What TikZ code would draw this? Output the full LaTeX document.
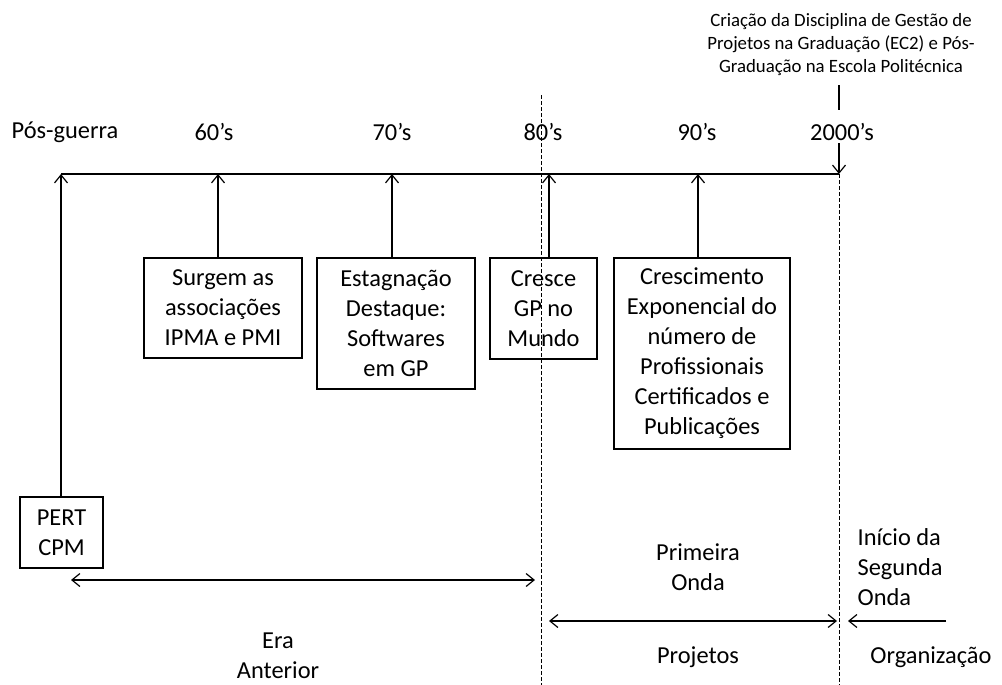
\documentclass[tikz,border=0pt]{standalone}
\usepackage{fontspec}
\setmainfont{Carlito}
\usetikzlibrary{arrows.meta}

\begin{document}
\begin{tikzpicture}[
  x=0.5pt, y=-0.5pt, line width=0.6pt,
  >={Straight Barb[length=4pt,width=6.5pt]},
  every node/.style={font=\fontsize{12.2}{15}\selectfont, inner sep=0pt},
  box/.style={draw, align=center},
  small/.style={font=\fontsize{9.4}{11.5}\selectfont, align=center},
  divider/.style={line width=0.5pt, dash pattern=on 2pt off 1pt},
  ]
  \useasboundingbox (0,0) rectangle (1002,685);

  % decades
  \node (lpos)  at (65,132)  {Pós-guerra};
  \node (l60)   at (214,132) {60’s};
  \node (l70)   at (392,132) {70’s};
  \node (l80)   at (543,132) {80’s};
  \node (l90)   at (697,132) {90’s};
  \node (l2000) at (842,132) {2000’s};
  \node[small] (note) at (841,45)
    {Criação da Disciplina de Gestão de\\Projetos na Graduação (EC2) e Pós-\\Graduação na Escola Politécnica};

  % timeline
  \coordinate (tpos)  at (61,174);
  \coordinate (t60)   at (218,174);
  \coordinate (t70)   at (392,174);
  \coordinate (t80)   at (549,174);
  \coordinate (t90)   at (698,174);
  \coordinate (t2000) at (839,174);
  \draw (tpos) -- (t2000);

  % events
  \node[box, minimum width=41.5pt, minimum height=35.5pt] (pert) at (61.5,532.5) {PERT\\CPM};
  \node[box, minimum width=79pt, minimum height=50pt] (surgem) at (223,308)
    {Surgem as\\associações\\IPMA e PMI};
  \node[box, minimum width=79pt, minimum height=65.5pt] (estag) at (396,323.5)
    {Estagnação\\Destaque:\\Softwares\\em GP};
  \node[box, minimum width=53.5pt, minimum height=50.5pt] (cresce) at (543.5,308.5)
    {Cresce\\GP no\\Mundo};
  \node[box, minimum width=88pt, minimum height=95.5pt] (expo) at (702,353.5)
    {Crescimento\\Exponencial do\\número de\\Profissionais\\Certificados e\\Publicações};

  \draw[->] (pert.north -| tpos) -- (tpos);
  \draw[->] (surgem.north -| t60) -- (t60);
  \draw[->] (estag.north -| t70) -- (t70);
  \draw[->] (cresce.north -| t80) -- (t80);
  \draw[->] (expo.north -| t90) -- (t90);
  \draw (t2000 |- 0,85) -- (t2000 |- 0,110);
  \draw[->] (t2000 |- 0,143) -- (t2000);

  % waves
  \draw[divider] (541,95) -- (541,685);
  \draw[divider] (t2000) -- (t2000 |- 0,685);

  \coordinate (eraL) at (71,580);
  \coordinate (eraR) at (535,580);
  \coordinate (ondaL) at (549,621);
  \coordinate (ondaR) at (837,621);
  \coordinate (segR) at (946,621);
  \coordinate (segL) at (848,621);
  \draw[<->] (eraL) -- (eraR);
  \draw[<->] (ondaL) -- (ondaR);
  \draw[->] (segR) -- (segL);

  \node[align=center] (era) at (278,656) {Era\\Anterior};
  \node[align=center] (onda1) at (698,567) {Primeira\\Onda};
  \node (proj) at (698,657) {Projetos};
  \node[align=left, anchor=west] (onda2) at (857,567) {Início da\\Segunda\\Onda};
  \node (org) at (931,657) {Organização};
\end{tikzpicture}
\end{document}
